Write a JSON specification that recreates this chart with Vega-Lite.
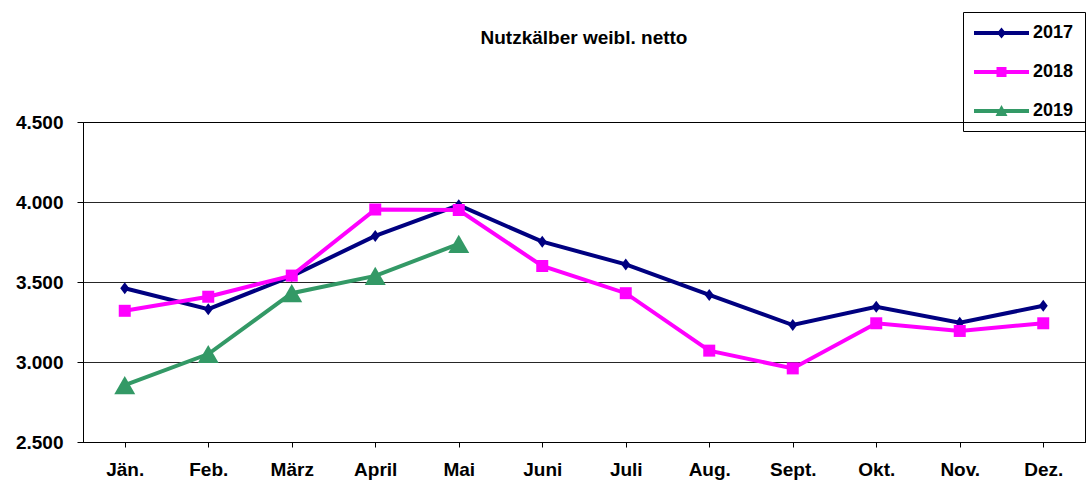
{
  "$schema": "https://vega.github.io/schema/vega-lite/v6.json",
  "width": 1002,
  "height": 320,
  "autosize": {"type": "none"},
  "padding": {"left": 83, "top": 122, "right": 3, "bottom": 38},
  "background": "white",
  "config": {
    "font": "Liberation Sans",
    "view": {"stroke": "#000", "strokeWidth": 1}
  },
  "title": {
    "text": "Nutzkälber weibl. netto",
    "fontSize": 19,
    "fontWeight": "bold",
    "font": "Liberation Sans",
    "color": "#000",
    "anchor": "middle",
    "offset": 66,
    "dy": 102
  },
  "data": {
    "values": [
      {"month": "Jän.", "year": "2017", "value": 3461},
      {"month": "Feb.", "year": "2017", "value": 3330},
      {"month": "März", "year": "2017", "value": 3537},
      {"month": "April", "year": "2017", "value": 3788},
      {"month": "Mai", "year": "2017", "value": 3980},
      {"month": "Juni", "year": "2017", "value": 3752},
      {"month": "Juli", "year": "2017", "value": 3610},
      {"month": "Aug.", "year": "2017", "value": 3419},
      {"month": "Sept.", "year": "2017", "value": 3231},
      {"month": "Okt.", "year": "2017", "value": 3345},
      {"month": "Nov.", "year": "2017", "value": 3245},
      {"month": "Dez.", "year": "2017", "value": 3352},
      {"month": "Jän.", "year": "2018", "value": 3320},
      {"month": "Feb.", "year": "2018", "value": 3408},
      {"month": "März", "year": "2018", "value": 3540},
      {"month": "April", "year": "2018", "value": 3953},
      {"month": "Mai", "year": "2018", "value": 3950},
      {"month": "Juni", "year": "2018", "value": 3600},
      {"month": "Juli", "year": "2018", "value": 3430},
      {"month": "Aug.", "year": "2018", "value": 3071},
      {"month": "Sept.", "year": "2018", "value": 2960},
      {"month": "Okt.", "year": "2018", "value": 3242},
      {"month": "Nov.", "year": "2018", "value": 3194},
      {"month": "Dez.", "year": "2018", "value": 3242},
      {"month": "Jän.", "year": "2019", "value": 2855},
      {"month": "Feb.", "year": "2019", "value": 3050},
      {"month": "März", "year": "2019", "value": 3430},
      {"month": "April", "year": "2019", "value": 3538},
      {"month": "Mai", "year": "2019", "value": 3738}
    ]
  },
  "encoding": {
    "x": {
      "field": "month",
      "type": "nominal",
      "scale": {
        "domain": ["Jän.", "Feb.", "März", "April", "Mai", "Juni", "Juli", "Aug.", "Sept.", "Okt.", "Nov.", "Dez."],
        "paddingInner": 0,
        "paddingOuter": 0
      },
      "axis": {
        "title": null,
        "labelAngle": 0,
        "labelFontSize": 19,
        "labelFontWeight": "bold",
        "labelFont": "Liberation Sans",
        "labelColor": "#000",
        "bandPosition": 0,
        "tickSize": 5,
        "tickColor": "#000",
        "domainColor": "#000",
        "labelPadding": 13,
        "grid": false
      }
    },
    "y": {
      "field": "value",
      "type": "quantitative",
      "scale": {"domain": [2500, 4500], "nice": false, "zero": false},
      "axis": {
        "title": null,
        "values": [2500, 3000, 3500, 4000, 4500],
        "labelExpr": "replace(format(datum.value, ','), ',', '.')",
        "labelFontSize": 19,
        "labelFontWeight": "bold",
        "labelFont": "Liberation Sans",
        "labelColor": "#000",
        "tickSize": 6,
        "tickColor": "#000",
        "domainColor": "#000",
        "labelPadding": 14,
        "grid": true,
        "gridColor": "#000",
        "gridWidth": 1,
        "gridOpacity": 0.85
      }
    }
  },
  "layer": [
    {
      "transform": [{"filter": "datum.year == '2017'"}],
      "mark": {"type": "line", "strokeWidth": 4, "color": "#000080"}
    },
    {
      "transform": [{"filter": "datum.year == '2018'"}],
      "mark": {"type": "line", "strokeWidth": 4, "color": "#FF00FF"}
    },
    {
      "transform": [{"filter": "datum.year == '2019'"}],
      "mark": {"type": "line", "strokeWidth": 4, "color": "#339966"}
    },
    {
      "transform": [{"filter": "datum.year == '2017'"}],
      "mark": {"type": "point", "filled": true, "opacity": 1, "color": "#000080", "shape": "M0,-1.2L0.9,0L0,1.2L-0.9,0Z", "size": 100}
    },
    {
      "transform": [{"filter": "datum.year == '2018'"}],
      "mark": {"type": "point", "filled": true, "opacity": 1, "color": "#FF00FF", "shape": "square", "size": 144}
    },
    {
      "transform": [{"filter": "datum.year == '2019'"}],
      "mark": {"type": "point", "filled": true, "opacity": 1, "color": "#339966", "shape": "triangle-up", "size": 440}
    },
    {
      "mark": {"type": "point", "filled": true, "opacity": 0.001},
      "encoding": {
        "color": {
          "field": "year",
          "type": "nominal",
          "scale": {"domain": ["2017", "2018", "2019"], "range": ["#000080", "#FF00FF", "#339966"]},
          "legend": {
            "title": null,
            "orient": "none",
            "legendX": 880,
            "legendY": -110,
            "direction": "vertical",
            "strokeColor": "#000",
            "padding": 11,
            "symbolSize": 400,
            "symbolStrokeWidth": 0,
            "symbolOpacity": 1,
            "rowPadding": 20,
            "labelOffset": 39,
            "labelFontSize": 18,
            "labelFontWeight": "bold",
            "labelFont": "Liberation Sans",
            "labelColor": "#000"
          }
        },
        "shape": {
          "field": "year",
          "type": "nominal",
          "scale": {
            "domain": ["2017", "2018", "2019"],
            "range": [
              "M-1,-0.2H4.5V0.2H-1Z M1.75,-0.55L2.2,0L1.75,0.55L1.3,0Z",
              "M-1,-0.2H4.5V0.2H-1Z M1.25,-0.5H2.25V0.5H1.25Z",
              "M-1,-0.2H4.5V0.2H-1Z M1.75,-0.6L2.35,0.5H1.15Z"
            ]
          },
          "legend": {
            "title": null,
            "orient": "none",
            "legendX": 880,
            "legendY": -110,
            "direction": "vertical",
            "strokeColor": "#000",
            "padding": 11,
            "symbolSize": 400,
            "symbolStrokeWidth": 0,
            "symbolOpacity": 1,
            "rowPadding": 20,
            "labelOffset": 39,
            "labelFontSize": 18,
            "labelFontWeight": "bold",
            "labelFont": "Liberation Sans",
            "labelColor": "#000"
          }
        }
      }
    }
  ]
}
